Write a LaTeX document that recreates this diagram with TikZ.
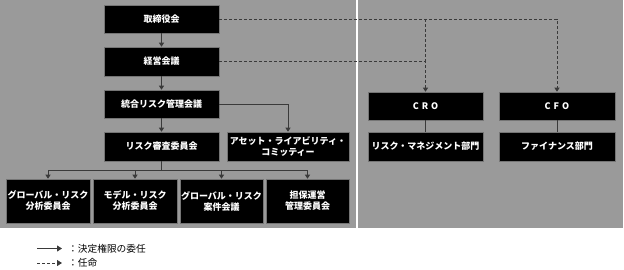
\documentclass[tikz,border=0pt]{standalone}
\usepackage{fontspec}
\newfontfamily\jp{Noto Sans CJK JP}
\usetikzlibrary{arrows.meta}
\definecolor{panel}{HTML}{9A9A9A}
\definecolor{ln}{HTML}{3A3A3A}
\tikzset{
  box/.style={draw=ln!70!white,line width=0.6pt,fill=black,text=white,align=center,inner sep=0pt,
    font=\jp\bfseries\fontsize{9}{11}\selectfont},
  conn/.style={draw=ln,line width=1pt,-{Triangle[width=5pt,length=4pt]}},
  dconn/.style={conn,dash pattern=on 3pt off 2pt},
  plain/.style={draw=ln,line width=1pt},
  legtext/.style={anchor=west,inner sep=0pt,font=\jp\fontsize{9.7}{11}\selectfont},
}
\newcommand{\bx}[6]{\node[box,minimum width=#3pt-#2pt,minimum height=#5pt-#4pt] (#1) at ({(#2+#3)/2*1pt},{-(#4+#5)/2*1pt}) {#6};}
\begin{document}
\begin{tikzpicture}[x=1pt,y=-1pt]
\useasboundingbox (0,0) rectangle (624,269);
\fill[white] (0,0) rectangle (624,269);
\fill[panel] (0,0) rectangle (355.5,227.5);
\fill[panel] (358,0) rectangle (623,227.5);
\bx{A}{104}{219}{5}{33}{取締役会}
\bx{B}{104}{219}{47}{76}{経営会議}
\bx{C}{104}{219}{90}{118}{統合リスク管理会議}
\bx{D}{104}{219}{132}{161}{リスク審査委員会}
\bx{E}{227}{349}{132}{161}{アセット・ライアビリティ・\\コミッティー}
\bx{F1}{6}{90}{179}{223}{グローバル・リスク\\分析委員会}
\bx{F2}{93}{177}{179}{223}{モデル・リスク\\分析委員会}
\bx{F3}{180}{263}{179}{223}{グローバル・リスク\\案件会議}
\bx{F4}{266}{349}{179}{223}{担保運営\\管理委員会}
\bx{CRO}{368}{483}{92}{120}{C\hspace{3pt}R\hspace{3pt}O}
\bx{CFO}{499}{615}{92}{120}{C\hspace{3pt}F\hspace{3pt}O}
\bx{RM}{368}{483}{132}{161}{リスク・マネジメント部門}
\bx{FIN}{499}{615}{132}{161}{ファイナンス部門}
% solid
\draw[conn] (A) -- (B);
\draw[conn] (B) -- (C);
\draw[conn] (C) -- (D);
\draw[conn] (C.east) -| (E.north);
\coordinate (j) at (161.5,170);
\draw[plain] (D.south) -- (j);
\draw[conn] (j) -| (F1.north);
\draw[conn] (j) -| (F2.north);
\draw[conn] (j) -| (F3.north);
\draw[conn] (j) -| (F4.north);
\draw[plain] (CRO) -- (RM);
\draw[plain] (CFO) -- (FIN);
% dashed
\draw[dconn] (A.east) -| (CFO.north);
\draw[dconn] (B.east) -| (CRO.north);
\draw[plain,dash pattern=on 3pt off 2pt] (A.east -| CRO.north) -- (B.east -| CRO.north);
% legend
\coordinate (l1a) at (37,248.5); \coordinate (l1b) at (62,248.5);
\coordinate (l2a) at (37,263); \coordinate (l2b) at (62,263);
\draw[conn,line width=0.9pt,-{Triangle[width=6pt,length=5pt]}] (l1a) -- (l1b);
\draw[dconn,line width=0.9pt,-{Triangle[width=6pt,length=5pt]}] (l2a) -- (l2b);
\node[legtext] (t1) at (68,248.5) {：決定権限の委任};
\node[legtext] (t2) at (68,263) {：任命};
\end{tikzpicture}
\end{document}
